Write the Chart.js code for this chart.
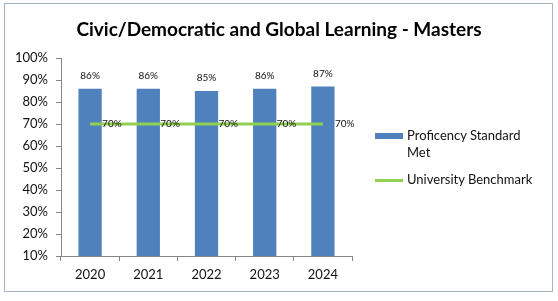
<!DOCTYPE html>
<html>
<head>
<meta charset="utf-8">
<script src="https://cdn.jsdelivr.net/npm/chart.js@4"></script>
<style>
  body { margin: 0; background: #fff; }
  #wrap { position: relative; width: 558px; height: 301px; }
  #frame { position: absolute; left: 4px; top: 3px; width: 547px; height: 287px; border: 1px solid #a3b5c9; pointer-events: none; }
  #title { position: absolute; left: 0; width: 558px; top: 17px; text-align: center; font-family: Lato, "Open Sans", sans-serif; font-weight: bold; font-size: 19px; color: #000; }
  .legend { position: absolute; left: 375px; font-family: Lato, "Open Sans", sans-serif; font-size: 13px; color: #111; }
  .legend .txt { position: absolute; left: 32px; line-height: 17px; white-space: nowrap; }
  .swatch-bar { position: absolute; left: 0; width: 28px; height: 6px; background: #4f81bd; }
  .swatch-line { position: absolute; left: 0; width: 28px; height: 3px; background: #92d050; }
</style>
</head>
<body>
<div id="wrap">
  <canvas id="chart" width="558" height="301"></canvas>
  <div id="frame"></div>
  <div id="title">Civic/Democratic and Global Learning - Masters</div>
  <div class="legend" style="top:133px">
    <div class="swatch-bar" style="top:0"></div>
    <div class="txt" style="top:-6px">Proficency Standard<br>Met</div>
  </div>
  <div class="legend" style="top:179px">
    <div class="swatch-line" style="top:0"></div>
    <div class="txt" style="top:-8px">University Benchmark</div>
  </div>
</div>
<script>
// Data
const years = ['2020', '2021', '2022', '2023', '2024'];
const proficiency = [86, 86, 85, 86, 87];
const benchmark = [70, 70, 70, 70, 70];
const yTicks = [10, 20, 30, 40, 50, 60, 70, 80, 90, 100];

const FONT = 'Lato, "Open Sans", sans-serif';

// Value labels drawn above bars and right of line points
const valueLabels = {
    id: 'valueLabels',
    afterDatasetsDraw(chart) {
        const ctx = chart.ctx;
        ctx.save();
        ctx.font = '10px ' + FONT;
        ctx.fillStyle = '#111';
        ctx.textBaseline = 'middle';
        chart.getDatasetMeta(1).data.forEach((bar, i) => {
            ctx.textAlign = 'center';
            ctx.fillText(proficiency[i] + '%', bar.x, bar.y - 13);
        });
        chart.getDatasetMeta(0).data.forEach((pt, i) => {
            ctx.textAlign = 'left';
            ctx.fillText(benchmark[i] + '%', pt.x + 12, pt.y);
        });
        ctx.restore();
    }
};

new Chart(document.getElementById('chart'), {
    data: {
        labels: years,
        datasets: [
            {
                type: 'line',
                label: 'University Benchmark',
                data: benchmark,
                borderColor: '#92d050',
                borderWidth: 3,
                pointRadius: 0,
                order: 0
            },
            {
                type: 'bar',
                label: 'Proficency Standard Met',
                data: proficiency,
                backgroundColor: '#4f81bd',
                categoryPercentage: 1,
                barPercentage: 0.4,
                order: 1
            }
        ]
    },
    options: {
        responsive: false,
        animation: false,
        layout: { padding: { left: 0, right: 206, top: 58, bottom: 0 } },
        plugins: {
            legend: { display: false },
            tooltip: { enabled: false },
            title: { display: false }
        },
        scales: {
            x: {
                grid: { display: true, drawOnChartArea: false, offset: true, tickLength: 5, color: '#868686' },
                border: { color: '#868686' },
                ticks: { color: '#111', font: { family: FONT, size: 13 }, padding: 6 },
                afterFit(scale) { scale.height = 45; }
            },
            y: {
                min: 10,
                max: 100,
                afterBuildTicks(scale) { scale.ticks = yTicks.map(v => ({ value: v })); },
                grid: { display: true, drawOnChartArea: false, tickLength: 5, color: '#868686' },
                border: { color: '#868686' },
                ticks: {
                    color: '#111',
                    font: { family: FONT, size: 13 },
                    padding: 8,
                    callback: v => v + '%'
                },
                afterFit(scale) { scale.width = 61; }
            }
        }
    },
    plugins: [valueLabels]
});
</script>
</body>
</html>
